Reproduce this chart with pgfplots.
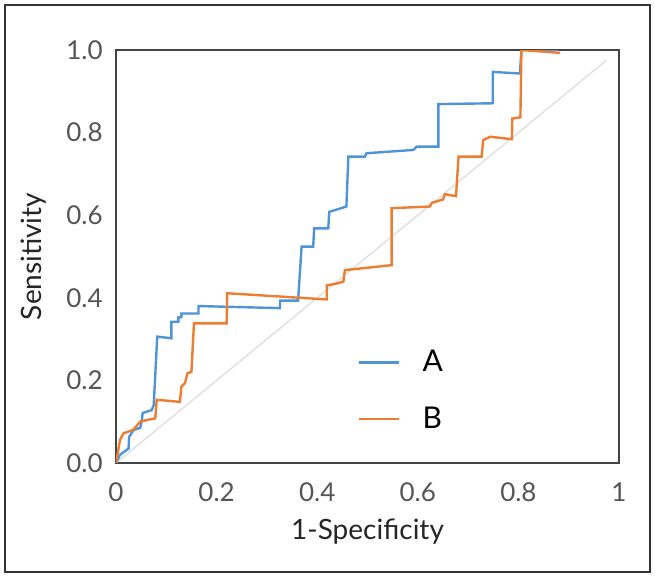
\documentclass[border=0pt]{standalone}
\usepackage{pgfplots}
\pgfplotsset{compat=1.18}
\usepackage{fontspec}
\setmainfont{Lato}

\definecolor{rocA}{HTML}{4F93D8}
\definecolor{rocB}{HTML}{ED7D31}
\definecolor{chance}{HTML}{E2E2E2}
\definecolor{axisgray}{HTML}{444444}
\definecolor{ticktext}{HTML}{555555}

\begin{document}
\begin{tikzpicture}
\useasboundingbox (0,0) rectangle (327.5pt,289.5pt);
\draw[color=black!80, line width=0.6pt] (2.5pt,3.5pt) rectangle (325pt,287pt);
\begin{axis}[
  at={(58pt,58pt)}, anchor=south west,
  scale only axis, width=251.5pt, height=206.5pt,
  xmin=0, xmax=1, ymin=0, ymax=1,
  axis line style={color=axisgray, line width=1.4pt},
  major tick length=0pt,
  xtick={0,0.2,0.4,0.6,0.8,1},
  xticklabels={0,0.2,0.4,0.6,0.8,1},
  ytick={0,0.2,0.4,0.6,0.8,1},
  yticklabels={0.0,0.2,0.4,0.6,0.8,1.0},
  tick label style={font=\fontsize{13}{15}\selectfont, color=ticktext},
  xticklabel style={anchor=center, inner sep=0pt, yshift=-14.5pt},
  yticklabel style={anchor=east, inner sep=0pt, xshift=-6.5pt},
  xlabel={1-Specificity}, ylabel={Sensitivity},
  label style={font=\fontsize{14}{16}\selectfont, color=black!85},
  xlabel style={at={(axis description cs:0.5,0)}, anchor=center, yshift=-34.5pt},
  ylabel style={at={(axis description cs:0,0.5)}, anchor=center, yshift=41pt},
  legend style={draw=none, fill=none, at={(axis cs:0.479,0.175)}, anchor=west,
    font=\fontsize{15}{17}\selectfont, row sep=12pt, inner sep=0pt,
    column sep=9.5pt},
  legend cell align=left,
  legend image code/.code={\draw[#1] (0pt,0pt) -- (20pt,0pt);},
]
% chance diagonal
\addplot[chance, line width=0.8pt, forget plot] coordinates {(0,0) (0.975,0.975)};
% curve A
\addplot[rocA, line width=1.2pt] coordinates {
(0,0) (0.008,0.02) (0.025,0.035) (0.026,0.063) (0.035,0.08) (0.048,0.085)
(0.051,0.10) (0.053,0.121) (0.071,0.128) (0.075,0.14) (0.082,0.306)
(0.11,0.302) (0.11,0.342) (0.124,0.342) (0.124,0.353) (0.13,0.353)
(0.13,0.362) (0.164,0.362) (0.164,0.38) (0.326,0.375) (0.326,0.393)
(0.362,0.393) (0.369,0.524) (0.392,0.524) (0.394,0.568) (0.422,0.568)
(0.424,0.608) (0.458,0.621) (0.462,0.742) (0.495,0.742) (0.498,0.75)
(0.591,0.758) (0.598,0.766) (0.641,0.766) (0.641,0.869) (0.749,0.871)
(0.749,0.947) (0.803,0.943) (0.806,1.0) (0.88,1.0)
};
\addlegendentry{A}
% curve B
\addplot[rocB, line width=1.2pt] coordinates {
(0,0) (0.008,0.056) (0.015,0.072) (0.034,0.08) (0.048,0.1) (0.061,0.104)
(0.078,0.108) (0.081,0.153) (0.127,0.148) (0.13,0.185) (0.137,0.193)
(0.142,0.217) (0.15,0.221) (0.155,0.338) (0.22,0.338) (0.221,0.411)
(0.419,0.396) (0.419,0.43) (0.44,0.435) (0.452,0.439) (0.455,0.467)
(0.548,0.479) (0.548,0.617) (0.624,0.621) (0.628,0.63) (0.65,0.638)
(0.654,0.651) (0.676,0.646) (0.681,0.742) (0.727,0.742) (0.73,0.782)
(0.744,0.79) (0.787,0.784) (0.788,0.834) (0.804,0.837) (0.806,1.0)
(0.883,0.993)
};
\addlegendentry{B}
\end{axis}
\end{tikzpicture}
\end{document}
